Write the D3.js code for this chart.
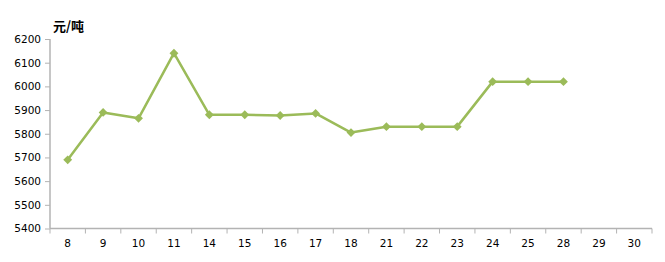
<!DOCTYPE html>
<html>
<head>
<meta charset="utf-8">
<script src="https://cdn.jsdelivr.net/npm/d3@7"></script>
<style>
body { margin:0; background:#fff; }
svg text { font-family: "DejaVu Sans", "Liberation Sans", sans-serif; }
</style>
</head>
<body>
<div id="chart"></div>
<script>
// categories (days) and prices
var days = ["8","9","10","11","14","15","16","17","18","21","22","23","24","25","28","29","30"];
var prices = [5690,5890,5865,6140,5880,5880,5877,5886,5805,5830,5830,5830,6020,6020,6020,null,null];
var yTicks = [5400,5500,5600,5700,5800,5900,6000,6100,6200];
var unit = "元/吨";

var width = 665, height = 262;
var svg = d3.select("#chart").append("svg").attr("width", width).attr("height", height);

var stx = 50, enx = 652;
var sty = 39, eny = 228.5;

var xscale = d3.scaleBand().domain(days).range([stx, enx]);
var yscale = d3.scaleLinear().domain([5400, 6200]).range([eny, sty]);

var yAxis = svg.append("g").attr("transform", "translate(" + stx + ",0)")
	.call(d3.axisLeft(yscale).tickValues(yTicks).tickSize(5).tickPadding(4).tickFormat(d3.format("d")));
var xAxis = svg.append("g").attr("transform", "translate(0," + eny + ")")
	.call(d3.axisBottom(xscale).tickSize(0).tickPadding(11));

// tick marks at category borders
var borders = days.map(function(d){ return xscale(d); }).concat([enx]);
svg.selectAll(".xb").data(borders).enter().append("line")
	.attr("x1", function(d){ return d; }).attr("x2", function(d){ return d; })
	.attr("y1", eny).attr("y2", eny + 5)
	.attr("stroke", "#b3b3b3").attr("stroke-width", 1);

[yAxis, xAxis].forEach(function(g){
	g.select(".domain").attr("stroke", "#b3b3b3").attr("stroke-width", 1.5);
	g.selectAll(".tick line").attr("stroke", "#b3b3b3");
	g.selectAll("text").attr("font-size", 10.5).attr("fill", "#000");
});
xAxis.select(".domain").attr("d", "M" + stx + ",0H" + enx);
yAxis.select(".domain").attr("d", "M0," + sty + "V" + eny);

var pts = days.map(function(d, i){ return {d:d, v:prices[i]}; }).filter(function(p){ return p.v != null; });

var line = d3.line()
	.x(function(p){ return xscale(p.d) + xscale.bandwidth()/2; })
	.y(function(p){ return yscale(p.v); });

svg.append("path").datum(pts).attr("d", line)
	.attr("fill", "none").attr("stroke", "#9bbb59").attr("stroke-width", 2.5)
	.attr("stroke-linejoin", "round");

svg.selectAll(".mk").data(pts).enter().append("path")
	.attr("d", d3.symbol().type(d3.symbolDiamond2).size(50))
	.attr("transform", function(p){ return "translate(" + (xscale(p.d) + xscale.bandwidth()/2) + "," + yscale(p.v) + ")"; })
	.attr("fill", "#9bbb59");

svg.append("text").attr("x", 53).attr("y", 31).attr("font-size", 13).attr("font-weight", "bold")
	.style("font-family", "'Noto Sans CJK SC', sans-serif").text(unit);
</script>
</body>
</html>
